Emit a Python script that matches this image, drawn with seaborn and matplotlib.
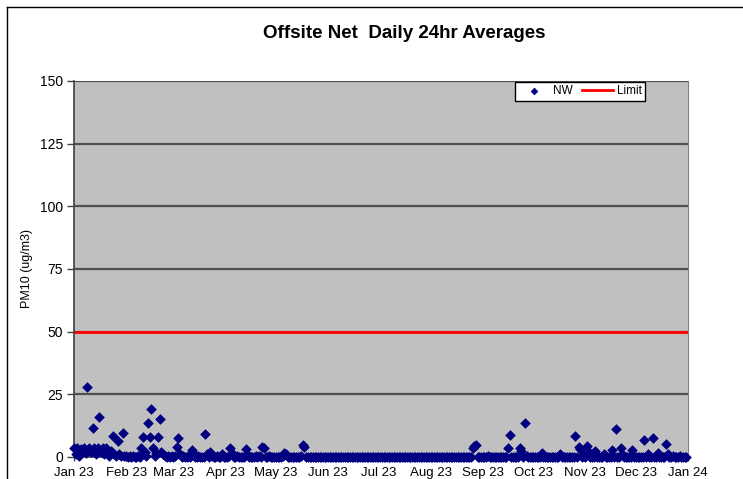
import pandas as pd
import numpy as np
import seaborn as sns
import matplotlib.pyplot as plt
import matplotlib.dates as mdates
from matplotlib.lines import Line2D

# daily 24hr averages, PM10 (ug/m3)
jan = [3.5, 1, 3.5, 0.5, 3, 2, 3.5, 1.5, 28, 3.5, 2, 11.4, 3.5, 1, 3.5, 16,
       2, 3.5, 1, 3.5, 1.5, 0.5, 2.5, 8.5, 1, 0.5, 6.4, 1, 0.5, 9.4, 0.5]
feb = [0.5, 0, 0.3, 0, 0.5, 0, 0, 0.3, 0, 3.5, 7.9, 2, 0.5, 13.7, 8.1, 19,
       3.5, 0.5, 1.5, 8.1, 15, 2, 1, 0.3, 0, 0.5, 0, 0.3]
mar = [0, 0.3, 4.1, 7.7, 1, 0, 0.5, 0, 0, 0.3, 0, 2.8, 1.5, 0, 0, 0.3,
       0, 0, 0, 9.1, 1, 0, 1.9, 0.3, 0, 0, 0.5, 0, 0, 1, 0]
apr = [0, 0, 0.3, 3.5, 1.5, 0, 0, 0.5, 0, 0, 0, 0, 3.1, 1, 0, 0,
       0, 0, 0.3, 0, 0.5, 0, 4.1, 3.5, 0, 0, 0.5, 0, 0, 0]
may = [0, 0, 0, 0, 0.3, 1.7, 1, 0, 0, 0, 0, 0, 0, 0, 0, 0.3,
       4.8, 4, 0, 0, 0, 0, 0, 0, 0, 0, 0, 0, 0, 0, 0]
jun = [0, 0, 0, 0, 0, 0, 0, 0, 0, 0, 0, 0, 0, 0, 0, 0,
       0, 0, 0, 0, 0, 0, 0, 0, 0, 0, 0, 0, 0, 0]
jul = [0, 0, 0, 0, 0, 0, 0, 0, 0, 0, 0, 0, 0, 0, 0, 0,
       0, 0, 0, 0, 0, 0, 0, 0, 0, 0, 0, 0, 0, 0, 0]
aug = [0, 0, 0, 0, 0, 0, 0, 0, 0, 0, 0, 0, 0, 0, 0, 0,
       0, 0, 0, 0, 0, 0, 0, 0, 0, 3.5, 4.2, 4.8, 0, 0, 0]
sep = [0, 0, 0, 0.5, 0, 0, 0, 0, 0, 0, 0, 0, 0, 0, 0, 3.5,
       8.8, 0, 0, 0, 0, 0, 3.5, 2.5, 0, 13.7, 0.5, 0, 0, 0]
oct_ = [0, 0, 0, 0, 0, 1.5, 0, 0, 0, 0, 0, 0, 0, 0, 0, 0,
        1.1, 0, 0, 0, 0, 0, 0, 0, 0, 8.4, 0, 4.1, 3, 0, 1]
nov = [0, 4.5, 2, 0, 0, 0, 2.4, 0, 0, 0, 0, 1, 0, 0, 0, 0,
       2.8, 0, 11.2, 0, 0, 3.7, 1, 0, 0, 0, 0, 0, 2.8, 0]
dec = [0, 0, 0, 0, 0, 6.8, 0, 1, 0, 0, 7.7, 0, 0, 1.5, 0, 0,
       0, 0, 5.1, 1, 0, 0, 0.5, 0, 0, 0, 0.5, 0, 0, 0, 0]

limit = 50
y_ticks = [0, 25, 50, 75, 100, 125, 150]

nw = jan + feb + mar + apr + may + jun + jul + aug + sep + oct_ + nov + dec
df = pd.DataFrame({'date': pd.date_range('2023-01-01', periods=len(nw), freq='D'),
                   'NW': nw})

plt.rcParams['font.family'] = ['Liberation Sans', 'DejaVu Sans']

fig = plt.figure(figsize=(7.43, 4.79), dpi=100)
ax = fig.add_axes([74 / 743, 22 / 479, 614 / 743, 376 / 479])
ax.set_facecolor('#c0c0c0')

sns.scatterplot(data=df, x='date', y='NW', ax=ax, marker='D', s=24,
                color='#000080', edgecolor='#000080', linewidth=0.5,
                label='NW', clip_on=False, zorder=3)
ax.axhline(limit, color='#ff0000', lw=2, label='Limit', zorder=2)

ax.set_ylim(0, 150)
ax.set_yticks(y_ticks)
ax.set_xlim(pd.Timestamp('2023-01-01'), pd.Timestamp('2024-01-01'))
ax.xaxis.set_major_locator(mdates.MonthLocator())
ax.xaxis.set_major_formatter(mdates.DateFormatter('%b %y'))
for y in y_ticks[1:]:
    ax.axhline(y, color='#505050', lw=1.6, zorder=1)

for s in ['left', 'bottom']:
    ax.spines[s].set_color('#404040')
    ax.spines[s].set_linewidth(1.2)
ax.spines['right'].set_color('#808080')
ax.spines['top'].set_visible(False)
ax.tick_params(axis='y', direction='out', length=5, width=1, color='#404040',
               labelsize=10, pad=3)
ax.tick_params(axis='x', direction='out', length=3, width=1, color='#404040',
               labelsize=9.5, pad=4)

ax.set_xlabel('')
ax.set_ylabel('PM10 (ug/m3)', fontsize=9)
ax.yaxis.set_label_coords(-0.066, 0.5)

leg = ax.legend(loc='upper right', bbox_to_anchor=(0.93, 0.998), ncol=2,
                fontsize=8.5, frameon=True, fancybox=False, edgecolor='black',
                framealpha=1, borderpad=0.3, handlelength=2.6, handletextpad=0.3,
                columnspacing=0.8, borderaxespad=0, markerscale=0.7)
leg.get_frame().set_linewidth(1)

fig.suptitle('Offsite Net  Daily 24hr Averages', x=404 / 743, y=1 - 25 / 479,
             fontsize=13.5, fontweight='bold')

# chart area border (top and left edges visible)
fig.add_artist(Line2D([7 / 743, 7 / 743], [0, 1 - 7 / 479], color='black', lw=1))
fig.add_artist(Line2D([7 / 743, 1], [1 - 7 / 479, 1 - 7 / 479], color='black', lw=1))

plt.savefig('out.png', dpi=100)
